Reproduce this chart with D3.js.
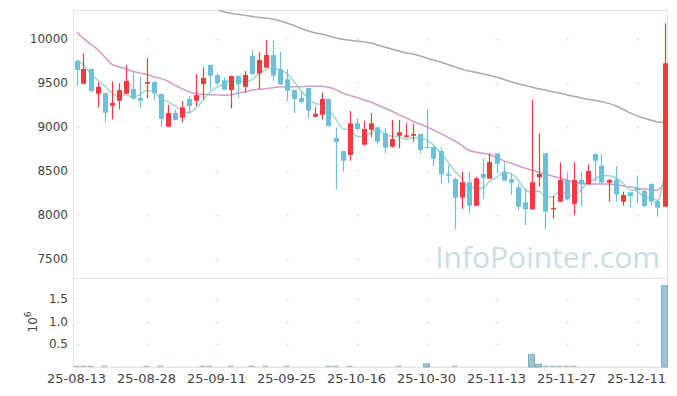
<!DOCTYPE html>
<html><head><meta charset="utf-8">
<script src="https://cdn.jsdelivr.net/npm/d3@7"></script>
<style>body{margin:0;background:#fff}svg{display:block}text{font-family:"DejaVu Sans",sans-serif}</style>
</head><body><svg id="c" width="677" height="396"></svg>
<script>
const dates = ["25-08-13","25-08-14","25-08-18","25-08-19","25-08-20","25-08-21","25-08-22","25-08-25","25-08-26","25-08-27",
"25-08-28","25-08-29","25-09-01","25-09-02","25-09-03","25-09-04","25-09-05","25-09-08","25-09-09","25-09-10",
"25-09-11","25-09-12","25-09-15","25-09-16","25-09-17","25-09-18","25-09-19","25-09-22","25-09-23","25-09-24",
"25-09-25","25-09-26","25-09-29","25-09-30","25-10-01","25-10-02","25-10-10","25-10-13","25-10-14","25-10-15",
"25-10-16","25-10-17","25-10-20","25-10-21","25-10-22","25-10-23","25-10-24","25-10-27","25-10-28","25-10-29",
"25-10-30","25-10-31","25-11-03","25-11-04","25-11-05","25-11-06","25-11-07","25-11-10","25-11-11","25-11-12",
"25-11-13","25-11-14","25-11-17","25-11-18","25-11-19","25-11-20","25-11-21","25-11-24","25-11-25","25-11-26",
"25-11-27","25-11-28","25-12-01","25-12-02","25-12-03","25-12-04","25-12-05","25-12-08","25-12-09","25-12-10",
"25-12-11","25-12-12","25-12-15","25-12-16","25-12-17"];
const openP = [9750,9492,9659,9378,9386,9242,9299,9378,9432,9330,9492,9511,9375,9003,9159,9106,9318,9299,9489,9705,
9591,9531,9420,9580,9458,9807,9610,9674,9818,9656,9542,9420,9330,9443,9117,9140,9318,8875,8727,8682,
9042,8799,8969,8997,8928,8776,8901,8886,8901,8920,8773,8773,8727,8466,8409,8197,8372,8106,8466,8413,
8701,8492,8406,8315,8144,8065,8428,8701,8065,8151,8398,8128,8398,8349,8693,8560,8367,8398,8151,8258,
8307,8273,8352,8159,8094];
const highP = [9760,9837,9665,9508,9390,9519,9497,9705,9622,9565,9781,9520,9380,9250,9201,9295,9352,9602,9678,9710,
9610,9565,9585,9585,9636,9875,9849,9989,9981,9856,9656,9425,9401,9448,9224,9394,9325,8997,8730,9182,
9099,9072,9156,9003,8985,9080,9080,9042,9034,8925,9201,8778,8765,8568,8428,8492,8492,8435,8644,8701,
8705,8594,8474,8360,8295,9307,8928,8705,8219,8599,8481,8599,8492,8576,8697,8690,8409,8557,8265,8262,
8443,8284,8364,8170,10178];
const lowP = [9466,9488,9400,9224,9053,9087,9201,9375,9310,9212,9326,9307,9003,8998,9075,9053,9156,9239,9315,9420,
9477,9420,9212,9326,9390,9591,9428,9670,9526,9480,9295,9156,9269,9099,9110,9087,9005,8292,8492,8617,
8958,8790,8883,8803,8701,8765,8758,8880,8833,8701,8760,8557,8360,8360,7841,8068,8019,8100,8182,8410,
8474,8385,8227,8057,7886,8060,8322,7837,7962,8145,8167,8000,8102,8345,8378,8360,8151,8151,8106,8083,
8136,8091,8106,7981,8090];
const closeP = [9648,9659,9409,9455,9163,9273,9420,9523,9322,9299,9511,9383,9091,9159,9080,9224,9239,9364,9557,9583,
9500,9424,9580,9485,9591,9602,9761,9818,9583,9485,9413,9318,9284,9185,9148,9318,9011,8830,8617,9042,
8977,8977,9042,8833,8765,8864,8940,8906,8920,8739,8765,8640,8462,8447,8197,8372,8106,8417,8424,8602,
8583,8390,8367,8094,8065,8372,8466,8037,8080,8398,8178,8398,8349,8500,8617,8367,8398,8235,8227,8216,
8284,8102,8151,8083,9724];
const volume = [30000,30000,30000,3000,30000,3000,3000,3000,3000,3000,30000,3000,30000,3000,3000,3000,3000,3000,30000,30000,
3000,3000,30000,3000,3000,30000,3000,30000,3000,3000,30000,3000,3000,3000,3000,3000,30000,30000,3000,30000,
3000,3000,3000,3000,3000,3000,30000,3000,3000,3000,70000,3000,3000,3000,30000,3000,3000,3000,3000,3000,
3000,3000,3000,3000,3000,280000,60000,30000,30000,30000,30000,30000,3000,3000,3000,3000,3000,3000,3000,3000,
3000,3000,3000,3000,1790000];
const ma5 = [9769,9705,9610,9534,9467,9392,9344,9367,9340,9367,9415,9408,9321,9289,9245,9187,9159,9213,9293,9393,
9449,9486,9529,9514,9516,9536,9604,9651,9671,9650,9612,9523,9417,9337,9270,9251,9189,9098,8985,8964,
8895,8889,8931,8974,8919,8896,8889,8862,8879,8874,8854,8794,8705,8611,8502,8424,8317,8308,8303,8384,
8426,8483,8473,8407,8300,8258,8273,8207,8204,8271,8232,8218,8281,8365,8408,8446,8446,8423,8369,8289,
8272,8213,8196,8167,8469];
const ma20 = [10076,10008,9943,9883,9799,9716,9685,9662,9633,9614,9599,9572,9553,9523,9477,9440,9401,9383,9372,9367,
9366,9360,9367,9383,9398,9417,9428,9435,9447,9455,9458,9458,9458,9462,9462,9462,9451,9428,9386,9360,
9337,9310,9284,9250,9216,9182,9144,9106,9065,9034,9004,8966,8928,8886,8844,8792,8739,8716,8701,8685,
8656,8617,8591,8562,8534,8511,8489,8466,8443,8420,8398,8375,8364,8356,8352,8352,8352,8344,8333,8318,
8307,8295,8288,8284,8367];
const ma60 = [null,null,null,null,null,null,null,null,null,null,null,null,null,null,null,null,null,null,null,null,
10341,10310,10292,10281,10269,10258,10247,10239,10227,10208,10182,10156,10125,10094,10072,10057,10038,10015,9997,9985,
9977,9968,9955,9932,9909,9886,9864,9844,9830,9810,9784,9761,9739,9712,9685,9659,9636,9622,9606,9587,
9568,9542,9517,9494,9474,9455,9435,9420,9401,9386,9367,9349,9333,9318,9303,9287,9269,9242,9205,9163,
9129,9102,9080,9057,9053];
const priceTicks = [7500,8000,8500,9000,9500,10000];
const volTicks = [500000,1000000,1500000];
const volTickLabels = ["0.5","1.0","1.5"];
const dateTickStep = 10;

const svg = d3.select("#c");
const L = 73, R = 668, T = 10, MB = 278, VB = 367;
const n = dates.length;
const x = d3.scaleLinear().domain([-0.5, n - 0.5]).range([L, R]);
const y = d3.scaleLinear().domain([7284, 10330]).range([MB, T]);
const yv = d3.scaleLinear().domain([0, 1960000]).range([VB, MB]);
const UP = "#ef3b3f", DOWN = "#6cc0d8";
const gridC = "#e4e4e4";

svg.append("defs").append("clipPath").attr("id","clipM")
  .append("rect").attr("x",L).attr("y",T).attr("width",R-L).attr("height",MB-T);

// grid "+" markers
function plus(g, px, py){
  g.append("line").attr("x1",px-2).attr("x2",px+2).attr("y1",py).attr("y2",py).attr("stroke","#ebebeb");
  g.append("line").attr("x1",px).attr("x2",px).attr("y1",py-2).attr("y2",py+2).attr("stroke","#ebebeb");
}
const gridG = svg.append("g");
const tickIdx = d3.range(0, n, dateTickStep);
tickIdx.forEach(i => {
  priceTicks.forEach(p => plus(gridG, Math.round(x(i))+0.5, Math.round(y(p))+0.5));
  volTicks.forEach(v => plus(gridG, Math.round(x(i))+0.5, Math.round(yv(v))+0.5));
});

// watermark
svg.append("text").attr("x", 660).attr("y", 268).attr("text-anchor","end")
  .attr("font-size", 30).attr("fill", "#c9dde7").style("font-family","'Open Sans',sans-serif")
  .text("InfoPointer.com");

// panel borders
svg.append("rect").attr("x",L+0.5).attr("y",T+0.5).attr("width",R-L-1).attr("height",MB-T)
  .attr("fill","none").attr("stroke",gridC);
svg.append("rect").attr("x",L+0.5).attr("y",MB+0.5).attr("width",R-L-1).attr("height",VB-MB)
  .attr("fill","none").attr("stroke",gridC);

// MA lines
const main = svg.append("g").attr("clip-path","url(#clipM)");
function maLine(arr, color){
  const ln = d3.line().defined(d => d != null).x((d,i) => x(i)).y(d => y(d)).curve(d3.curveMonotoneX);
  main.append("path").datum(arr).attr("d", ln).attr("fill","none").attr("stroke",color)
    .attr("stroke-width",1.5).attr("stroke-opacity",0.85);
}
maLine(ma60, "#9a9a9a");
maLine(ma20, "#c98bc3");
maLine(ma5, "#8ccfc2");

// candles
const cg = main.append("g");
dates.forEach((d,i) => {
  const up = closeP[i] >= openP[i];
  const col = up ? UP : DOWN;
  const cx = Math.round(x(i)) + 0.5;
  cg.append("line").attr("x1",cx).attr("x2",cx).attr("y1",y(highP[i])).attr("y2",y(lowP[i]))
    .attr("stroke",col).attr("stroke-width",1.2);
  const top = y(Math.max(openP[i],closeP[i])), bot = y(Math.min(openP[i],closeP[i]));
  cg.append("rect").attr("x",cx-2.5).attr("y",top).attr("width",5).attr("height",Math.max(1.2,bot-top))
    .attr("fill",col);
});

// volume bars
const vg = svg.append("g");
dates.forEach((d,i) => {
  const h = yv(0) - yv(volume[i]);
  vg.append("rect").attr("x",x(i-0.5)+0.5).attr("y",yv(volume[i])).attr("width",x(1)-x(0)-1).attr("height",h)
    .attr("fill","#9cc4d1").attr("stroke", h > 2 ? "#7fb1c3" : "none").attr("stroke-width",1);
});

// axes labels
const lab = svg.append("g").attr("fill","#444").attr("font-size",12);
priceTicks.forEach(p => lab.append("text").attr("x",68).attr("y",y(p)).attr("dy","0.35em")
  .attr("text-anchor","end").text(p));
volTicks.forEach((v,k) => lab.append("text").attr("x",68).attr("y",yv(v)).attr("dy","0.35em")
  .attr("text-anchor","end").text(volTickLabels[k]));
tickIdx.forEach(i => lab.append("text").attr("x",x(i)).attr("y",378).attr("dy","0.35em")
  .attr("text-anchor","middle").attr("font-size",13).text(dates[i]));
const off = lab.append("text").attr("transform","translate(37,322) rotate(-90)").attr("text-anchor","middle");
off.append("tspan").text("10");
off.append("tspan").attr("dy",-6).attr("font-size",9).text("6");
</script></body></html>
